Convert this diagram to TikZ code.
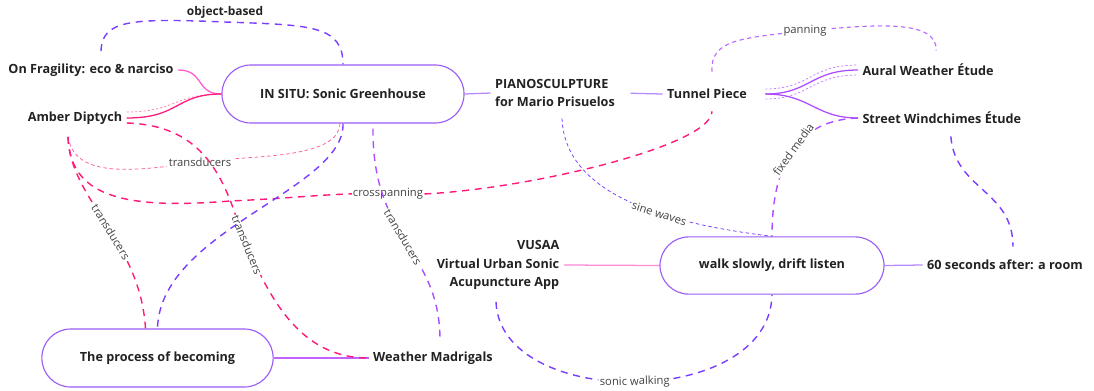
\documentclass[tikz,border=0pt]{standalone}
\usepackage{fontspec}
\setmainfont{Open Sans}
\usepackage{xcolor}
\usepackage{tikz}
\usetikzlibrary{calc}

\definecolor{ink}{HTML}{222222}
\definecolor{boxline}{HTML}{9A5CF5}
\definecolor{bluevio}{HTML}{7B3DFF}
\definecolor{grape}{HTML}{AE4DFF}
\definecolor{lilac}{HTML}{B48AFF}
\definecolor{orchid}{HTML}{C261FF}
\definecolor{hotpink}{HTML}{FF1A7A}
\definecolor{softpink}{HTML}{FF5CCF}
\definecolor{blush}{HTML}{FF8AD6}

\begin{document}
\begin{tikzpicture}[
    x=0.025cm, y=-0.025cm,
    hub/.style={rectangle, draw=boxline, line width=0.8pt, rounded corners=0.72cm, minimum height=1.45cm, text=ink, font=\bfseries\fontsize{9}{13}\selectfont},
    item/.style={text=ink, inner sep=3pt, font=\bfseries\fontsize{9}{13}\selectfont},
    link/.style={line width=0.9pt},
    dlink/.style={line width=1pt, dash pattern=on 5pt off 4pt},
    fine/.style={line width=0.55pt, dash pattern=on 2.5pt off 2pt},
    tag/.style={sloped, fill=white, inner sep=1pt, text=ink!85, font=\fontsize{8}{9}\selectfont}
]
    \useasboundingbox (0,0) rectangle (1094,390);

    % the three rounded hubs
    \node (insitu) [hub, minimum width=6.05cm] at (343,94) {IN SITU: Sonic Greenhouse};
    \node (becoming) [hub, minimum width=5.78cm] at (157.5,358) {The process of becoming};
    \node (walk) [hub, minimum width=5.6cm, minimum height=1.43cm] at (772,265.5) {walk slowly, drift listen};

    % plain works
    \node (fragility) [item] at (91,70) {On Fragility: eco \& narciso};
    \node (amber) [item] at (75,118) {Amber Diptych};
    \node (piano) [item, align=left] at (555,93) {PIANOSCULPTURE\\for Mario Prisuelos};
    \node (tunnel) [item] at (707,94) {Tunnel Piece};
    \node (aural) [item, anchor=west] at (858,70) {Aural Weather Étude};
    \node (street) [item, anchor=west] at (858,118) {Street Windchimes Étude};
    \node (madrigals) [item] at (433,358) {Weather Madrigals};
    \node (vusaa) [item, align=right] at (498,265) {VUSAA\\Virtual Urban Sonic\\Acupuncture App};
    \node (room) [item] at (1005,265) {60 seconds after: a room};

    % solid links
    \draw [link, softpink] (fragility.east) .. controls (205,70) and (195,94) .. (insitu.west);
    \draw [fine, hotpink!55, dash pattern=on 1.5pt off 1.5pt] ($(amber.east)+(0,-6)$) .. controls (175,112) and (175,94) .. (insitu.west);
    \draw [link, hotpink] (amber.east) .. controls (180,118) and (175,94) .. (insitu.west);
    \draw [link, lilac] (insitu.east) -- (piano.west);
    \draw [link, lilac, shorten <=8pt] (piano.east) -- (tunnel.west);
    \draw [fine, grape!70, dash pattern=on 1.5pt off 1.5pt, shorten <=10pt] ($(tunnel.east)+(0,-5)$) .. controls (810,89) and (810,65) .. ($(aural.west)+(0,-5)$);
    \draw [fine, grape!70, dash pattern=on 1.5pt off 1.5pt, shorten <=10pt] ($(tunnel.east)+(0,5)$) .. controls (810,99) and (810,75) .. ($(aural.west)+(0,5)$);
    \draw [link, grape, shorten <=10pt] (tunnel.east) .. controls (810,94) and (810,70) .. (aural.west);
    \draw [link, grape, shorten <=10pt] (tunnel.east) .. controls (810,94) and (815,118) .. (street.west);
    \draw [link, blush] (vusaa.east) -- (walk.west);
    \draw [link, lilac] (walk.east) -- (room.west);
    \draw [link, orchid] (becoming.east) -- (madrigals.west);

    % dashed cross links
    \draw [dlink, bluevio] ($(fragility.north)+(10,-8)$) .. controls (102,20) and (130,18) .. (225,22)
        node [above, inner sep=2pt, text=ink, font=\bfseries\fontsize{8.5}{10}\selectfont] {object-based}
        .. controls (310,25) and (343,25) .. (insitu.north);
    \draw [fine, hotpink!70] ($(amber.south)+(-7,8)$) .. controls (75,178) and (130,172) .. (200,162)
        node [tag] {transducers} .. controls (250,155) and (338,160) .. ($(insitu.south)+(-3,0)$);
    \draw [dlink, hotpink] ($(amber.south)+(-7,8)$) .. controls (70,200) and (140,240) .. ($(becoming.north)+(-12,0)$)
        node [tag, pos=0.55] {transducers};
    \draw [dlink, hotpink] ($(amber.south)+(-7,8)$) .. controls (70,195) and (120,210) .. (230,201)
        .. controls (300,198) and (340,192) .. (388,194) node [tag] {crosspanning}
        .. controls (480,200) and (712,150) .. ($(tunnel.south)+(5,8)$);
    \draw [dlink, hotpink] ($(amber.east)+(0,5)$) .. controls (190,125) and (215,160) .. (232,205)
        .. controls (265,300) and (300,358) .. (madrigals.west) node [tag, pos=0.15] {transducers};
    \draw [dlink, bluevio] (insitu.south) .. controls (345,190) and (160,230) .. (becoming.north);
    \draw [dlink, grape] ($(insitu.south)+(30,5)$) .. controls (372,240) and (440,250) .. ($(madrigals.north)+(7,-7)$)
        node [tag, pos=0.47] {transducers};
    \draw [fine, bluevio] ($(piano.south)+(7,7)$) .. controls (565,200) and (680,225) .. (walk.north)
        node [tag, pos=0.6] {sine waves};
    \draw [dlink, grape!85, line width=0.8pt, dash pattern=on 3pt off 2.5pt] ($(tunnel.north)+(5,-13)$) .. controls (710,40) and (740,38) .. (805,31)
        node [tag] {panning} .. controls (870,25) and (938,18) .. ($(aural.north)+(8,-9)$);
    \draw [dlink, grape] (street.west) .. controls (800,120) and (772,160) .. (walk.north)
        node [tag, pos=0.5] {fixed media};
    \draw [dlink, bluevio] ($(street.south)+(9,8)$) .. controls (955,190) and (1013,190) .. ($(room.north)+(8,-9)$);
    \draw [dlink, bluevio] ($(vusaa.south)+(-2,8)$) .. controls (500,410) and (770,410) .. (walk.south)
        node [tag, pos=0.5] {sonic walking};
\end{tikzpicture}
\end{document}
